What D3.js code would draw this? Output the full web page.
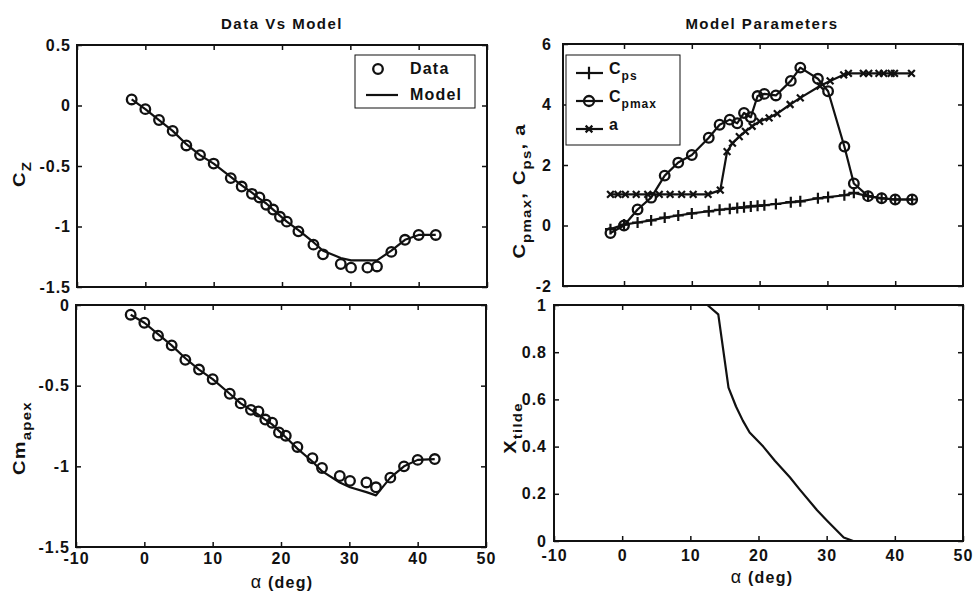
<!DOCTYPE html>
<html>
<head>
<meta charset="utf-8">
<script src="https://cdn.jsdelivr.net/npm/d3@7"></script>
<style>
  body { margin: 0; background: #fff; }
  text { font-family: "Liberation Sans", Arial, sans-serif; font-weight: bold; fill: #111; }
</style>
</head>
<body>
<svg width="974" height="594"></svg>
<script>
// angle of attack grid shared by most series
const alpha = [-2, 0, 2, 4, 6, 8, 10, 12.5, 14.1, 15.6, 16.7, 17.7, 18.7, 19.7, 20.7, 22.4, 24.6, 26, 28.6, 30.1, 32.5, 33.9, 36, 38, 40, 42.5];

const czData  = [0.05, -0.03, -0.12, -0.21, -0.33, -0.41, -0.48, -0.6, -0.67, -0.73, -0.76, -0.82, -0.86, -0.92, -0.96, -1.04, -1.15, -1.23, -1.31, -1.34, -1.34, -1.33, -1.21, -1.11, -1.07, -1.07];
const czModel = [0.05, -0.03, -0.12, -0.21, -0.32, -0.41, -0.48, -0.59, -0.66, -0.72, -0.77, -0.81, -0.86, -0.91, -0.96, -1.03, -1.13, -1.2, -1.26, -1.28, -1.28, -1.28, -1.2, -1.11, -1.07, -1.07];

const cmData  = [-0.06, -0.11, -0.19, -0.25, -0.34, -0.4, -0.46, -0.55, -0.61, -0.65, -0.66, -0.71, -0.73, -0.79, -0.81, -0.88, -0.95, -1.01, -1.06, -1.09, -1.1, -1.13, -1.07, -1.0, -0.96, -0.955];
const cmModel = [-0.06, -0.11, -0.18, -0.25, -0.33, -0.4, -0.46, -0.55, -0.61, -0.65, -0.68, -0.71, -0.74, -0.78, -0.82, -0.89, -0.97, -1.03, -1.1, -1.13, -1.16, -1.18, -1.07, -1.0, -0.96, -0.955];

const cps   = [-0.12, 0.03, 0.1, 0.17, 0.26, 0.33, 0.4, 0.47, 0.52, 0.55, 0.58, 0.6, 0.63, 0.65, 0.67, 0.71, 0.77, 0.8, 0.9, 0.94, 1.0, 1.08, 0.97, 0.9, 0.86, 0.86];
const cpmax = [-0.25, 0.0, 0.53, 0.92, 1.65, 2.08, 2.33, 2.9, 3.33, 3.5, 3.38, 3.72, 3.58, 4.28, 4.35, 4.3, 4.78, 5.22, 4.85, 4.44, 2.61, 1.39, 0.97, 0.9, 0.86, 0.86];

// a is sampled on its own, finer grid
const aAlpha = [-2, -0.9, 0.2, 1.8, 3.5, 5.2, 6.8, 8.5, 10.2, 12.4, 14.2, 15.2, 16, 17, 17.9, 18.9, 20, 21.4, 22.6, 24.5, 26, 28.9, 30.4, 32.4, 33.1, 35.3, 36.1, 37.6, 38.3, 39.4, 39.9, 42.4];
const aVals  = [1.03, 1.03, 1.03, 1.03, 1.03, 1.03, 1.03, 1.03, 1.03, 1.03, 1.17, 2.44, 2.72, 2.94, 3.11, 3.28, 3.44, 3.56, 3.7, 4.0, 4.22, 4.61, 4.78, 4.98, 5.03, 5.03, 5.03, 5.03, 5.03, 5.03, 5.03, 5.03];

const xTilde = [1, 1, 1, 1, 1, 1, 1, 1, 0.96, 0.65, 0.57, 0.51, 0.46, 0.43, 0.4, 0.34, 0.27, 0.22, 0.13, 0.085, 0.015, 0, 0, 0, 0, 0];

const alphaTicks = [-10, 0, 10, 20, 30, 40, 50];
const czTicks = [-1.5, -1, -0.5, 0, 0.5];
const cmTicks = [-1.5, -1, -0.5, 0];
const parTicks = [-2, 0, 2, 4, 6];
const xtTicks = [0, 0.2, 0.4, 0.6, 0.8, 1];

const ink = "#111";
const svg = d3.select("svg");

// marker shapes for d3.symbol
const plusSym = { draw(ctx, size) { const r = Math.sqrt(size) / 2; ctx.moveTo(-r, 0); ctx.lineTo(r, 0); ctx.moveTo(0, -r); ctx.lineTo(0, r); } };
const crossSym = { draw(ctx, size) { const r = Math.sqrt(size) / 2; ctx.moveTo(-r, -r); ctx.lineTo(r, r); ctx.moveTo(-r, r); ctx.lineTo(r, -r); } };

function makePanel(c) {
    const x = d3.scaleLinear().domain(c.xDom).range([c.left, c.right]);
    const y = d3.scaleLinear().domain(c.yDom).range([c.bottom, c.top]);
    const g = svg.append("g");

    const style = sel => {
        sel.select(".domain").remove();
        sel.selectAll(".tick line").attr("stroke", ink).attr("stroke-width", 1.5);
        sel.selectAll(".tick text").attr("fill", ink);
        sel.attr("font-size", 16).attr("font-family", null).style("letter-spacing", "1px");
    };

    g.append("g").attr("transform", `translate(0,${c.bottom})`)
        .call(d3.axisBottom(x).tickValues(c.xTicks).tickSize(-5).tickPadding(c.xPad || 6)
            .tickFormat(c.xLabels ? d => String(d) : ""))
        .call(style);
    g.append("g").attr("transform", `translate(0,${c.top})`)
        .call(d3.axisTop(x).tickValues(c.xTicks).tickSize(-5).tickFormat(""))
        .call(style);
    g.append("g").attr("transform", `translate(${c.left},0)`)
        .call(d3.axisLeft(y).tickValues(c.yTicks).tickSize(-5).tickPadding(c.yPad)
            .tickFormat(d => String(d)))
        .call(style);
    g.append("g").attr("transform", `translate(${c.right},0)`)
        .call(d3.axisRight(y).tickValues(c.yTicks).tickSize(-5).tickFormat(""))
        .call(style);

    g.append("rect")
        .attr("x", c.left).attr("y", c.top)
        .attr("width", c.right - c.left).attr("height", c.bottom - c.top)
        .attr("fill", "none").attr("stroke", ink).attr("stroke-width", 2);

    return { g, x, y };
}

function drawLine(p, xs, ys) {
    const line = d3.line().x(d => p.x(d[0])).y(d => p.y(d[1]));
    p.g.append("path")
        .attr("d", line(d3.zip(xs, ys)))
        .attr("fill", "none").attr("stroke", ink).attr("stroke-width", 2.2)
        .attr("stroke-linejoin", "round");
}

function drawCircles(p, xs, ys, r) {
    p.g.append("g").selectAll("circle")
        .data(d3.zip(xs, ys)).join("circle")
        .attr("cx", d => p.x(d[0])).attr("cy", d => p.y(d[1])).attr("r", r)
        .attr("fill", "none").attr("stroke", ink).attr("stroke-width", 2.3);
}

function drawSymbols(p, xs, ys, type, size) {
    const sym = d3.symbol().type(type).size(size);
    p.g.append("g").selectAll("path")
        .data(d3.zip(xs, ys)).join("path")
        .attr("transform", d => `translate(${p.x(d[0])},${p.y(d[1])})`)
        .attr("d", sym())
        .attr("fill", "none").attr("stroke", ink).attr("stroke-width", 2.2);
}

// text with subscripts; parts = [[text, isSub, normalWeight], ...]
function label(x, y, parts, opts = {}) {
    const size = opts.size || 16;
    const t = svg.append("text")
        .attr("text-anchor", opts.anchor || "middle")
        .attr("font-size", size)
        .style("letter-spacing", opts.spacing || "1px");
    if (opts.rotate) t.attr("transform", `translate(${x},${y}) rotate(-90) scale(1.25,1)`);
    else t.attr("x", x).attr("y", y);
    let shifted = 0;
    parts.forEach(([s, sub, normal]) => {
        const ts = t.append("tspan").text(s);
        const want = sub ? 6 : 0;
        if (want !== shifted) { ts.attr("dy", want - shifted); shifted = want; }
        if (sub) ts.attr("font-size", size * 0.75);
        if (normal) ts.attr("font-weight", "normal").attr("font-size", size + 2);
    });
    return t;
}

// ---- top left: Cz ----
const tl = makePanel({ left: 77, right: 487, top: 45, bottom: 287, xDom: [-10, 50], yDom: [-1.5, 0.5],
    xTicks: alphaTicks, yTicks: czTicks, xLabels: false, yPad: 6 });
drawLine(tl, alpha, czModel);
drawCircles(tl, alpha, czData, 4.8);

// ---- bottom left: Cm apex ----
const bl = makePanel({ left: 76, right: 486, top: 305, bottom: 547, xDom: [-10, 50], yDom: [-1.5, 0],
    xTicks: alphaTicks, yTicks: cmTicks, xLabels: true, yPad: 6, xPad: 6 });
drawLine(bl, alpha, cmModel);
drawCircles(bl, alpha, cmData, 4.8);

// ---- top right: model parameters ----
const tr = makePanel({ left: 563, right: 963, top: 44, bottom: 286, xDom: [-9, 50], yDom: [-2, 6],
    xTicks: [0, 10, 20, 30, 40], yTicks: parTicks, xLabels: false, yPad: 11 });
drawLine(tr, alpha, cps);
drawSymbols(tr, alpha, cps, plusSym, 120);
drawLine(tr, alpha, cpmax);
drawCircles(tr, alpha, cpmax, 4.8);
drawLine(tr, aAlpha, aVals);
drawSymbols(tr, aAlpha, aVals, crossSym, 45);

// ---- bottom right: x tilde ----
const br = makePanel({ left: 554, right: 963, top: 305, bottom: 541, xDom: [-10, 50], yDom: [0, 1],
    xTicks: alphaTicks, yTicks: xtTicks, xLabels: true, yPad: 7, xPad: 9 });
drawLine(br, alpha, xTilde);

// ---- legends ----
const lg1 = svg.append("g");
lg1.append("rect").attr("x", 355).attr("y", 55).attr("width", 120).attr("height", 53)
    .attr("fill", "#fff").attr("stroke", ink).attr("stroke-width", 1);
lg1.append("circle").attr("cx", 378).attr("cy", 69).attr("r", 4.8)
    .attr("fill", "none").attr("stroke", ink).attr("stroke-width", 2.3);
lg1.append("line").attr("x1", 366).attr("x2", 398).attr("y1", 95).attr("y2", 95)
    .attr("stroke", ink).attr("stroke-width", 2.2);
label(410, 74, [["Data"]], { anchor: "start", spacing: "1.2px" });
label(410, 100, [["Model"]], { anchor: "start", spacing: "1.2px" });

const lg2 = svg.append("g");
lg2.append("rect").attr("x", 566).attr("y", 55).attr("width", 114).attr("height", 90)
    .attr("fill", "#fff").attr("stroke", ink).attr("stroke-width", 1);
[73, 101, 129].forEach(yy => lg2.append("line").attr("x1", 576).attr("x2", 603)
    .attr("y1", yy).attr("y2", yy).attr("stroke", ink).attr("stroke-width", 2.2));
lg2.append("path").attr("transform", "translate(589,73)").attr("d", d3.symbol().type(plusSym).size(160)())
    .attr("fill", "none").attr("stroke", ink).attr("stroke-width", 2.2);
lg2.append("circle").attr("cx", 589).attr("cy", 101).attr("r", 5)
    .attr("fill", "none").attr("stroke", ink).attr("stroke-width", 2.3);
lg2.append("path").attr("transform", "translate(589,129)").attr("d", d3.symbol().type(crossSym).size(45)())
    .attr("fill", "none").attr("stroke", ink).attr("stroke-width", 2.2);
label(609, 74, [["C"], ["ps", true]], { anchor: "start" });
label(609, 102, [["C"], ["pmax", true]], { anchor: "start" });
label(609, 130, [["a"]], { anchor: "start" });

// ---- titles and axis labels ----
label(282, 29, [["Data Vs Model"]], { size: 15, spacing: "1.5px" });
label(762, 29, [["Model Parameters"]], { size: 15, spacing: "1.5px" });
label(282, 588, [["\u03b1", false, true], ["  (deg)"]], { spacing: "1.2px" });
label(762, 583, [["\u03b1", false, true], ["  (deg)"]], { spacing: "1.2px" });

label(25, 174, [["C"], ["Z", true]], { rotate: true });
label(25, 438, [["Cm"], ["apex", true]], { rotate: true });
label(525, 191, [["C"], ["pmax", true], [", C"], ["ps", true], [", a"]], { rotate: true });
label(516, 428, [["X"], ["tilde", true]], { rotate: true });
</script>
</body>
</html>
